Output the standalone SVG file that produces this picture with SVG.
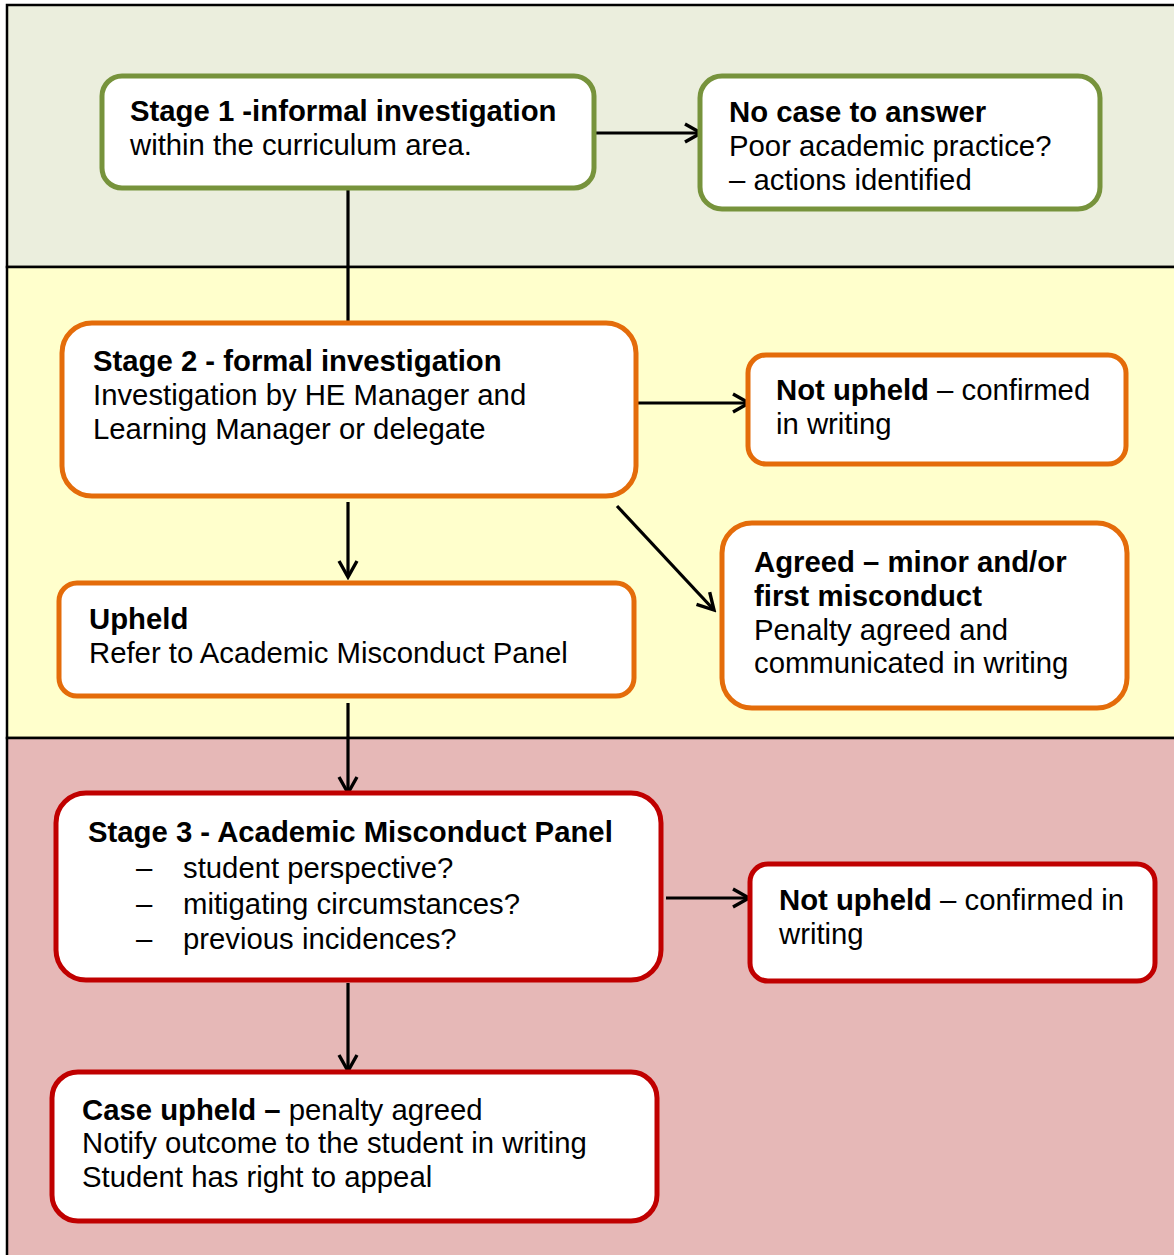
<svg xmlns="http://www.w3.org/2000/svg" width="1174" height="1255" viewBox="0 0 1174 1255">
<style>
text{font-family:"Liberation Sans",Arial,sans-serif;font-size:29.3px;fill:#000}
.b{font-weight:bold}
.box{fill:#fff;stroke-width:5}
.g{stroke:#77933C}
.o{stroke:#E46C0A}
.r{stroke:#C00000}
.c{stroke:#000;stroke-width:3.2;fill:none}
</style>
<defs>
<marker id="ah" viewBox="0 0 24 24" refX="21" refY="12" markerWidth="24" markerHeight="24" markerUnits="userSpaceOnUse" orient="auto">
<path d="M5,3 L21,12 L5,21" fill="none" stroke="#000" stroke-width="3.4"/>
</marker>
</defs>
<g id="bands">
<rect x="7" y="5" width="1170" height="262" fill="#EBEEDD" stroke="#000" stroke-width="2.5"/>
<rect x="7" y="267" width="1170" height="471" fill="#FFFFCC" stroke="#000" stroke-width="2.5"/>
<rect x="7" y="738" width="1170" height="520" fill="#E6B8B7" stroke="#000" stroke-width="2.5"/>
</g>
<g id="connectors">
<line class="c" x1="348" y1="189" x2="348" y2="322"/>
<line class="c" x1="588" y1="133" x2="701" y2="133" marker-end="url(#ah)"/>
<line class="c" x1="637" y1="403" x2="749" y2="403" marker-end="url(#ah)"/>
<line class="c" x1="348" y1="502" x2="348" y2="577" marker-end="url(#ah)"/>
<line class="c" x1="617" y1="506" x2="714" y2="610" marker-end="url(#ah)"/>
<line class="c" x1="348" y1="703" x2="348" y2="793" marker-end="url(#ah)"/>
<line class="c" x1="666" y1="898" x2="749" y2="898" marker-end="url(#ah)"/>
<line class="c" x1="348" y1="983" x2="348" y2="1071" marker-end="url(#ah)"/>
</g>
<g id="stage1">
<rect class="box g" x="102" y="76" width="492" height="112" rx="20"/>
<text x="130" y="121" class="b">Stage 1 -informal investigation</text>
<text x="130" y="155">within the curriculum area.</text>
</g>
<g id="nocase">
<rect class="box g" x="700" y="76" width="400" height="133" rx="22"/>
<text x="729" y="122" class="b">No case to answer</text>
<text x="729" y="156">Poor academic practice?</text>
<text x="729" y="190">– actions identified</text>
</g>
<g id="stage2">
<rect class="box o" x="62" y="323" width="574" height="173" rx="30"/>
<text x="93" y="371" class="b">Stage 2 - formal investigation</text>
<text x="93" y="405">Investigation by HE Manager and</text>
<text x="93" y="439">Learning Manager or delegate</text>
</g>
<g id="notupheld1">
<rect class="box o" x="748" y="355" width="378" height="109" rx="18"/>
<text x="776" y="400"><tspan class="b">Not upheld</tspan> – confirmed</text>
<text x="776" y="434">in writing</text>
</g>
<g id="agreed">
<rect class="box o" x="722" y="523" width="405" height="185" rx="30"/>
<text x="754" y="572" class="b">Agreed – minor and/or</text>
<text x="754" y="606" class="b">first misconduct</text>
<text x="754" y="640">Penalty agreed and</text>
<text x="754" y="673">communicated in writing</text>
</g>
<g id="upheld">
<rect class="box o" x="59" y="583" width="575" height="113" rx="18"/>
<text x="89" y="629" class="b">Upheld</text>
<text x="89" y="663">Refer to Academic Misconduct Panel</text>
</g>
<g id="stage3">
<rect class="box r" x="56" y="793" width="605" height="187" rx="30"/>
<text x="88" y="842" class="b">Stage 3 - Academic Misconduct Panel</text>
<text x="136" y="878">–</text><text x="183" y="878">student perspective?</text>
<text x="136" y="914">–</text><text x="183" y="914">mitigating circumstances?</text>
<text x="136" y="949">–</text><text x="183" y="949">previous incidences?</text>
</g>
<g id="notupheld2">
<rect class="box r" x="750" y="864" width="405" height="117" rx="18"/>
<text x="779" y="910"><tspan class="b">Not upheld</tspan> – confirmed in</text>
<text x="779" y="944">writing</text>
</g>
<g id="caseupheld">
<rect class="box r" x="52" y="1072" width="605" height="149" rx="26"/>
<text x="82" y="1120"><tspan class="b">Case upheld –</tspan> penalty agreed</text>
<text x="82" y="1153">Notify outcome to the student in writing</text>
<text x="82" y="1187">Student has right to appeal</text>
</g>
</svg>
